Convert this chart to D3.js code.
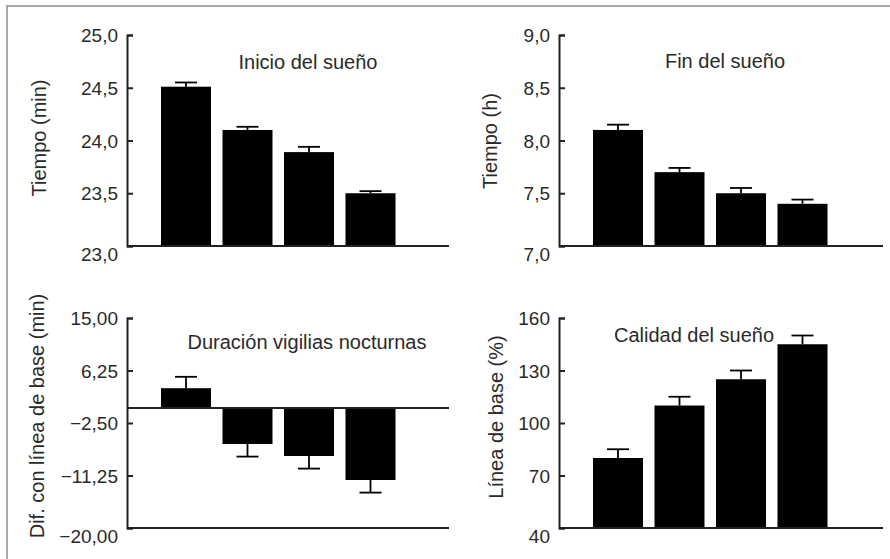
<!DOCTYPE html>
<html>
<head>
<meta charset="utf-8">
<script src="https://cdn.jsdelivr.net/npm/d3@7"></script>
<style>
  body { margin: 0; background: #fff; }
  svg { display: block; }
</style>
</head>
<body>
<svg id="chart"></svg>
<script>
// four groups, no names on the x axis
var categories = ["1", "2", "3", "4"];

var inicioValues = [24.51, 24.10, 23.89, 23.50];
var inicioErrors = [0.04, 0.03, 0.05, 0.02];
var inicioTicks = [23, 23.5, 24, 24.5, 25];

var finValues = [8.10, 7.70, 7.50, 7.40];
var finErrors = [0.05, 0.04, 0.05, 0.04];
var finTicks = [7, 7.5, 8, 8.5, 9];

var vigiliasValues = [3.3, -6.0, -8.0, -12.0];
var vigiliasErrors = [1.9, 2.1, 2.1, 2.1];
var vigiliasTicks = [-20, -11.25, -2.5, 6.25, 15];

var calidadValues = [80, 110, 125, 145];
var calidadErrors = [5, 5, 5, 5];
var calidadTicks = [40, 70, 100, 130, 160];

var screen = { width: 890, height: 559 };

var svg = d3.select("#chart")
            .attr("width", screen.width)
            .attr("height", screen.height);

// grey frame, top and left only
svg.append("path")
   .attr("d", "M7,559 V6 H890")
   .attr("fill", "none")
   .attr("stroke", "#8a8a8a")
   .attr("stroke-width", 1.5);

var fontFamily = "'Liberation Sans', Arial, Helvetica, sans-serif";

var comma = function(fmt)
{
  var f = d3.format(fmt);
  return function(d) { return f(d).replace(".", ","); };
}

var drawPanel = function(p)
{
  var yScale = d3.scaleLinear()
                 .domain(d3.extent(p.ticks))
                 .range([p.bottom, p.top]);

  var x0 = p.axisX + 28.25;
  var xScale = d3.scaleBand()
                 .domain(categories)
                 .range([x0, x0 + 246])
                 .paddingInner(0.187)
                 .paddingOuter(0.0935);

  var g = svg.append("g");
  var base = yScale(p.base);

  // bars
  g.selectAll("rect")
   .data(p.values)
   .enter()
   .append("rect")
   .attr("x", function(d, i) { return xScale(categories[i]); })
   .attr("width", xScale.bandwidth())
   .attr("y", function(d) { return Math.min(yScale(d), base); })
   .attr("height", function(d) { return Math.abs(yScale(d) - base); })
   .attr("fill", "#000");

  // error bars, away from the baseline
  var errEnd = function(d, i) { return d >= p.base ? d + p.errors[i] : d - p.errors[i]; };

  g.selectAll(".err")
   .data(p.values)
   .enter()
   .append("line")
   .attr("class", "err")
   .attr("x1", function(d, i) { return xScale(categories[i]) + xScale.bandwidth() / 2; })
   .attr("x2", function(d, i) { return xScale(categories[i]) + xScale.bandwidth() / 2; })
   .attr("y1", function(d) { return yScale(d); })
   .attr("y2", function(d, i) { return yScale(errEnd(d, i)); })
   .attr("stroke", "#000")
   .attr("stroke-width", 1.8);

  g.selectAll(".cap")
   .data(p.values)
   .enter()
   .append("line")
   .attr("class", "cap")
   .attr("x1", function(d, i) { return xScale(categories[i]) + xScale.bandwidth() / 2 - 11; })
   .attr("x2", function(d, i) { return xScale(categories[i]) + xScale.bandwidth() / 2 + 11; })
   .attr("y1", function(d, i) { return yScale(errEnd(d, i)); })
   .attr("y2", function(d, i) { return yScale(errEnd(d, i)); })
   .attr("stroke", "#000")
   .attr("stroke-width", 1.8);

  // x axis line at the bottom, and the baseline if it is not the bottom
  g.append("line")
   .attr("x1", p.axisX).attr("x2", p.xEnd)
   .attr("y1", p.bottom).attr("y2", p.bottom)
   .attr("stroke", "#222").attr("stroke-width", 2);

  if (p.base !== p.ticks[0])
  {
    g.append("line")
     .attr("x1", p.axisX).attr("x2", p.xEnd)
     .attr("y1", base).attr("y2", base)
     .attr("stroke", "#222").attr("stroke-width", 2);
  }

  var yAxis = d3.axisLeft(yScale)
                .tickValues(p.ticks)
                .tickFormat(p.format)
                .tickSize(-6)
                .tickPadding(9);

  var yAxisGraphic = g.append("g")
                      .attr("transform", "translate(" + p.axisX + ",0)")
                      .call(yAxis);

  yAxisGraphic.selectAll("path, line")
              .attr("stroke", "#222")
              .attr("stroke-width", 2);

  // lowest label sits a little under the x axis
  yAxisGraphic.selectAll("text")
              .attr("font-family", fontFamily)
              .attr("font-size", 19)
              .attr("fill", "#2a2a2a")
              .attr("dy", function(d) { return d === p.ticks[0] ? "0.77em" : "0.35em"; });

  // panel title
  g.append("text")
   .attr("x", p.titleX)
   .attr("y", p.titleY)
   .attr("text-anchor", "middle")
   .attr("font-family", fontFamily)
   .attr("font-size", 20)
   .attr("fill", "#2a2a2a")
   .text(p.title);

  // y label
  g.append("text")
   .attr("transform", "translate(" + p.labelX + "," + p.labelY + ") rotate(-90)")
   .attr("text-anchor", "middle")
   .attr("dominant-baseline", "central")
   .attr("font-family", fontFamily)
   .attr("font-size", 20)
   .attr("fill", "#2a2a2a")
   .text(p.label);
}

drawPanel({
  values: inicioValues, errors: inicioErrors, ticks: inicioTicks, base: 23,
  format: comma(".1f"), title: "Inicio del sueño", label: "Tiempo (min)",
  axisX: 127, xEnd: 449, top: 35, bottom: 246,
  titleX: 308, titleY: 69, labelX: 39, labelY: 138
});

drawPanel({
  values: finValues, errors: finErrors, ticks: finTicks, base: 7,
  format: comma(".1f"), title: "Fin del sueño", label: "Tiempo (h)",
  axisX: 559, xEnd: 883, top: 35, bottom: 246,
  titleX: 725, titleY: 68, labelX: 490, labelY: 141
});

drawPanel({
  values: vigiliasValues, errors: vigiliasErrors, ticks: vigiliasTicks, base: 0,
  format: comma(".2f"), title: "Duración vigilias nocturnas", label: "Dif. con línea de base (min)",
  axisX: 127, xEnd: 449, top: 318, bottom: 528,
  titleX: 307, titleY: 349, labelX: 37, labelY: 416
});

drawPanel({
  values: calidadValues, errors: calidadErrors, ticks: calidadTicks, base: 40,
  format: d3.format("d"), title: "Calidad del sueño", label: "Línea de base (%)",
  axisX: 559, xEnd: 883, top: 318, bottom: 528,
  titleX: 694, titleY: 342, labelX: 496, labelY: 417
});
</script>
</body>
</html>
